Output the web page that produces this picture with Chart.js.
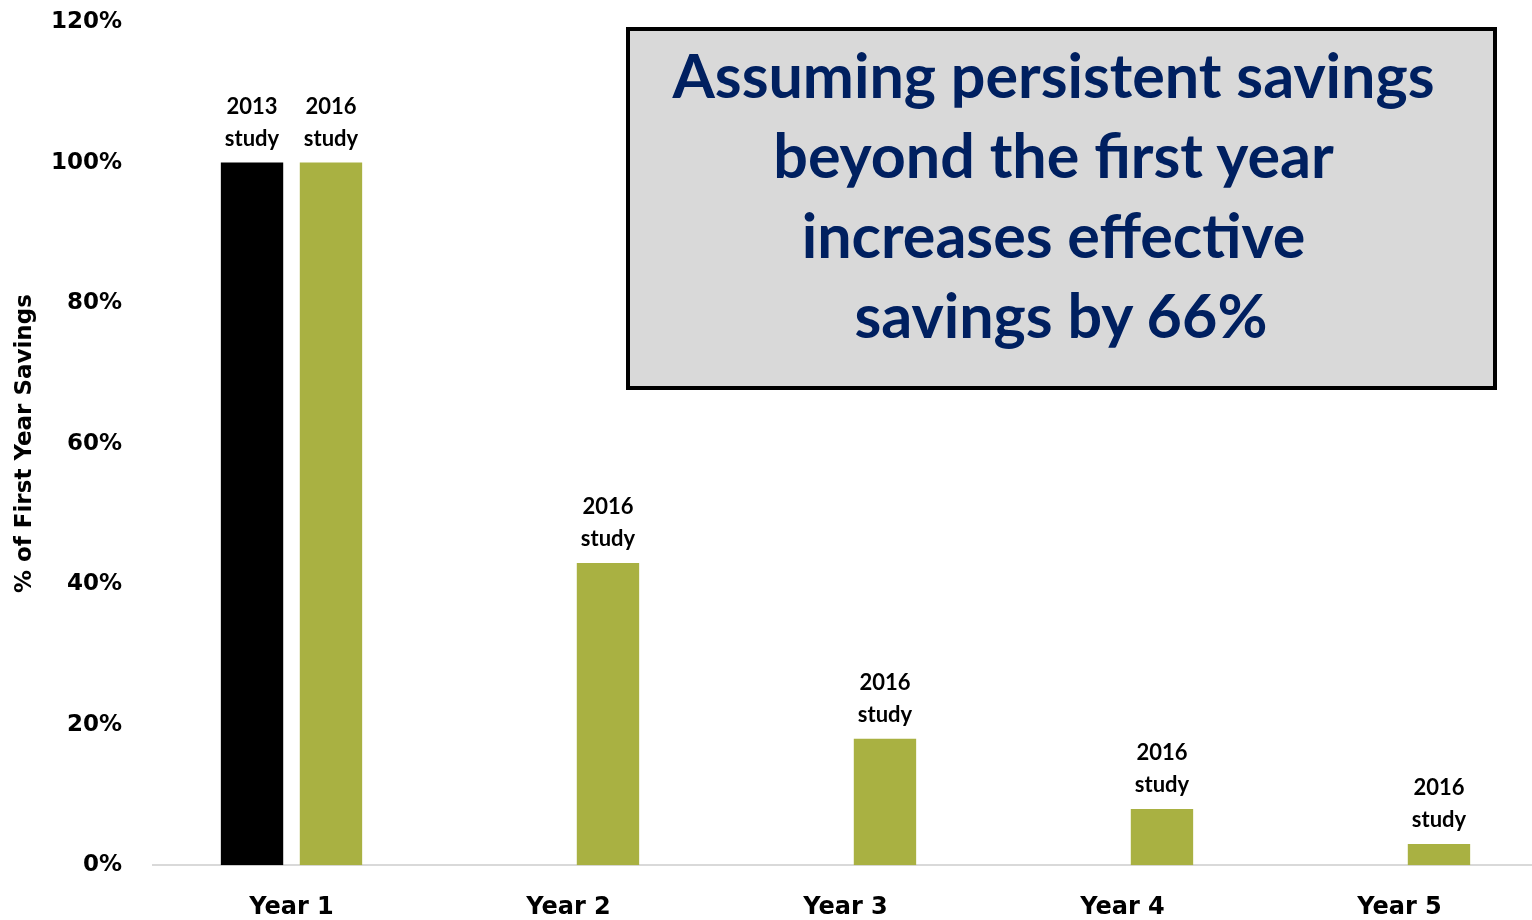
<!DOCTYPE html>
<html>
<head>
<meta charset="utf-8">
<script src="https://cdn.jsdelivr.net/npm/chart.js@4.4.1/dist/chart.umd.min.js"></script>
<style>
    body { margin: 0; background: #fff; }
    #wrap { position: relative; width: 1532px; height: 920px; overflow: hidden; }
    #note {
        position: absolute; left: 626px; top: 27px; width: 871px; height: 363px;
        box-sizing: border-box; border: 4px solid #000; background: #d9d9d9;
        padding: 4px 16px 0 0; text-align: center;
        font-family: Lato, 'Open Sans', sans-serif; font-weight: 700;
        font-size: 61px; line-height: 80px; color: #002060;
    }
</style>
</head>
<body>
<div id="wrap">
    <canvas id="savingsChart" width="1538" height="950"></canvas>
    <div id="note">Assuming persistent savings<br>beyond the first year<br>increases effective<br>&nbsp;savings by 66%</div>
</div>
<script>
// ============================================================
// DATA
// ============================================================
const categories = ['Year 1', 'Year 2', 'Year 3', 'Year 4', 'Year 5'];
const study2013 = [1.00, null, null, null, null];
const study2016 = [1.00, 0.43, 0.18, 0.08, 0.03];
const seriesYears = ['2013', '2016'];
const seriesColors = ['#000000', '#a9b142'];
const yMax = 1.2;
const yStep = 0.2;

// ============================================================
// LABELS ABOVE BARS ("2016 / study")
// ============================================================
const barLabels = {
    id: 'barLabels',
    afterDatasetsDraw(chart) {
        const ctx = chart.ctx;
        ctx.save();
        ctx.font = 'bold 22px Lato, sans-serif';
        ctx.fillStyle = '#000';
        ctx.textAlign = 'center';
        ctx.textBaseline = 'middle';
        chart.data.datasets.forEach((ds, di) => {
            const meta = chart.getDatasetMeta(di);
            meta.data.forEach((bar, i) => {
                if (ds.data[i] === null) return;
                ctx.fillText(seriesYears[di], bar.x, bar.y - 56);
                ctx.fillText('study', bar.x, bar.y - 24);
            });
        });
        ctx.restore();
    }
};

new Chart(document.getElementById('savingsChart').getContext('2d'), {
    type: 'bar',
    data: {
        labels: categories,
        datasets: [
            {
                label: '2013 study',
                data: study2013,
                backgroundColor: seriesColors[0],
                categoryPercentage: 0.57,
                barPercentage: 0.79
            },
            {
                label: '2016 study',
                data: study2016,
                backgroundColor: seriesColors[1],
                categoryPercentage: 0.57,
                barPercentage: 0.79
            }
        ]
    },
    options: {
        responsive: false,
        animation: false,
        layout: { padding: { top: 22, right: 0, bottom: 0, left: 0 } },
        plugins: {
            legend: { display: false },
            tooltip: { enabled: false }
        },
        scales: {
            x: {
                grid: { display: false, drawTicks: false },
                border: { display: true, color: '#d9d9d9', width: 2 },
                ticks: {
                    color: '#000',
                    padding: 28,
                    font: { family: 'DejaVu Sans', weight: 'bold', size: 24 }
                }
            },
            y: {
                min: 0,
                max: yMax,
                afterFit(scale) {
                    // fixed axis width, and don't let tick padding push the plot down
                    scale.width = 153;
                    scale.paddingTop = 0;
                    scale.paddingBottom = 0;
                },
                grid: { display: false, drawTicks: false },
                border: { display: false },
                ticks: {
                    stepSize: yStep,
                    color: '#000',
                    padding: 31,
                    font: { family: 'DejaVu Sans', weight: 'bold', size: 23 },
                    callback: v => Math.round(v * 100) + '%'
                },
                title: {
                    display: true,
                    text: '% of First Year Savings',
                    color: '#000',
                    padding: { top: 11, bottom: 0 },
                    font: { family: 'DejaVu Sans', weight: 'bold', size: 23 }
                }
            }
        }
    },
    plugins: [barLabels]
});
</script>
</body>
</html>
